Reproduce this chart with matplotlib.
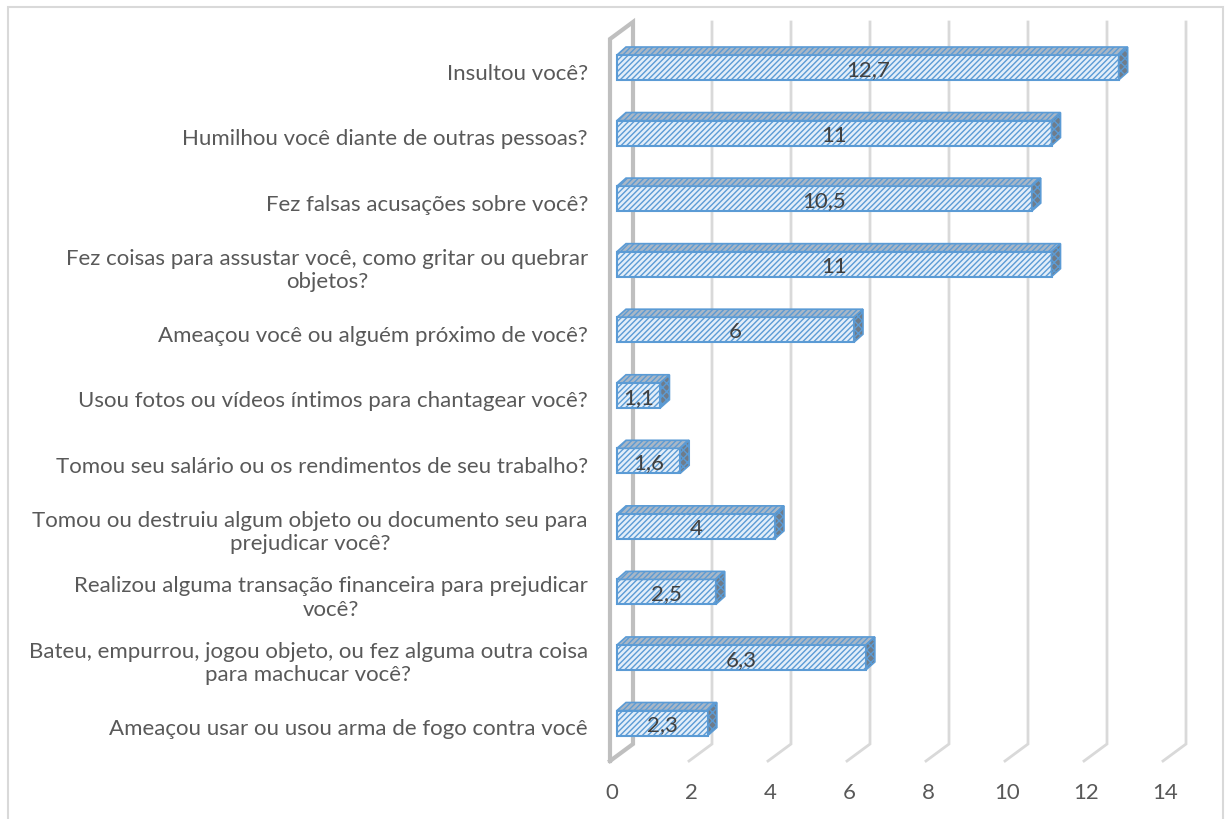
import matplotlib.pyplot as plt
from matplotlib.patches import Polygon, Rectangle

plt.rcParams['font.family'] = ['Lato', 'DejaVu Sans']
plt.rcParams['hatch.linewidth'] = 1.0

categories = [
    'Insultou você?',
    'Humilhou você diante de outras pessoas?',
    'Fez falsas acusações sobre você?',
    'Fez coisas para assustar você, como gritar ou quebrar\nobjetos?',
    'Ameaçou você ou alguém próximo de você?',
    'Usou fotos ou vídeos íntimos para chantagear você?',
    'Tomou seu salário ou os rendimentos de seu trabalho?',
    'Tomou ou destruiu algum objeto ou documento seu para\nprejudicar você?',
    'Realizou alguma transação financeira para prejudicar\nvocê?',
    'Bateu, empurrou, jogou objeto, ou fez alguma outra coisa\npara machucar você?',
    'Ameaçou usar ou usou arma de fogo contra você',
]
values = [12.7, 11, 10.5, 11, 6, 1.1, 1.6, 4, 2.5, 6.3, 2.3]
ticks = [0, 2, 4, 6, 8, 10, 12, 14]

W, H = 1226, 820
X0, SX = 617, 39.5      # pixel of value 0 (bar front face), px per unit
Y0, SY = 68.5, 65.55    # pixel of first bar centre, px per category
PX, PY = 1 / SX, 1 / SY


def yv(p):
    return (p - Y0) * PY


fig = plt.figure(figsize=(W / 100, H / 100), dpi=100)
ax = fig.add_axes([0, 0, 1, 1])
ax.set_xlim(-X0 * PX, (W - X0) * PX)
ax.set_ylim(yv(H), yv(0))
ax.axis('off')

# outer chart border
fig.patches.append(Rectangle((7.5 / W, -0.1), (1222.5 - 7.5) / W, 1.1 - 7.5 / H,
                             transform=fig.transFigure, fill=False,
                             ec='#d9d9d9', lw=1.5))

# back gridlines and floor diagonals
bx = 16 * PX
fx = -7 * PX
for t in ticks[1:]:
    ax.plot([t + bx, t + bx, t + fx], [yv(23), yv(745), yv(762)],
            color='#d9d9d9', lw=2, zorder=1, solid_joinstyle='miter')

# left wall
ax.plot([fx, fx, bx, bx, fx], [yv(762), yv(40), yv(23), yv(745), yv(762)],
        color='#bfbfbf', lw=3, zorder=1, solid_joinstyle='miter')

# bars with 3d faces
h = 25 * PY
dx, dy = 9 * PX, 8 * PY
ypos = list(range(len(values)))
ax.barh(ypos, values, height=h, left=0, color='#e3eef9', edgecolor='#5b9bd5',
        hatch='//////', lw=1.5, zorder=3)
for i, v in zip(ypos, values):
    yt, yb = i - h / 2, i + h / 2
    top = Polygon([(0, yt), (v, yt), (v + dx, yt - dy), (dx, yt - dy)],
                  closed=True, fc='#a9b7c6', ec='#5b9bd5', lw=1.2,
                  hatch='//////', zorder=3)
    side = Polygon([(v, yt), (v + dx, yt - dy), (v + dx, yb - dy), (v, yb)],
                   closed=True, fc='#6f7c8a', ec='#5b9bd5', lw=1.2,
                   hatch='xxxx', zorder=3)
    ax.add_patch(top)
    ax.add_patch(side)
    ax.text(v / 2, i + 1.5 * PY, ('%g' % v).replace('.', ','), ha='center',
            va='center', fontsize=16, color='#404040', zorder=5)

# category labels
for i, lab in enumerate(categories):
    ax.text(-29 * PX, i + 5 * PY, lab, ha='right', va='center',
            multialignment='center', fontsize=16, color='#595959',
            linespacing=1.2)

# tick labels on front floor edge
for t in ticks:
    ax.text(t + (612 - X0) * PX, yv(793), str(t), ha='center', va='center',
            fontsize=16, color='#595959')

fig.savefig('out.png', dpi=100)
